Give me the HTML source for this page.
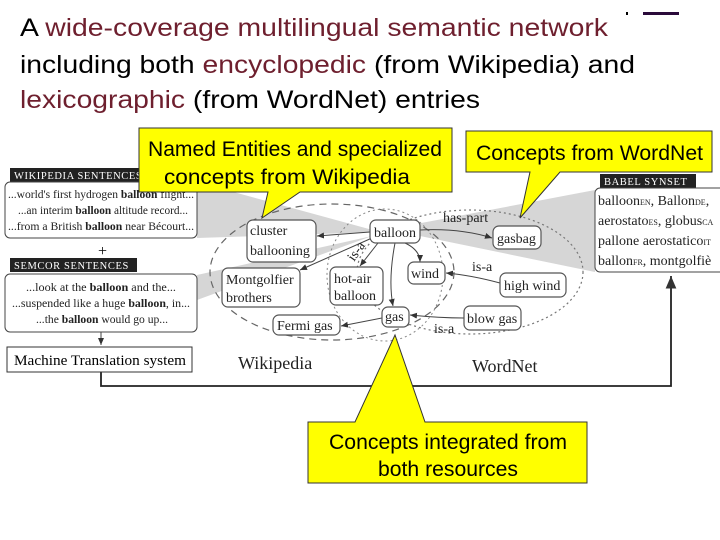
<!DOCTYPE html>
<html><head><meta charset="utf-8"><style>
html,body{margin:0;padding:0;background:#fff;width:720px;height:540px;overflow:hidden}
svg{display:block}
.t{font-family:"Liberation Sans",sans-serif;font-size:25px}
.r{fill:#6e1f2e}
.s{font-family:"Liberation Serif",serif}
.y{fill:#ffff00;stroke:#333;stroke-width:1}
.c{font-family:"Liberation Sans",sans-serif;font-size:21px;fill:#000}
.n{fill:#fff;stroke:#555;stroke-width:1.2}
.nt{font-family:"Liberation Serif",serif;font-size:14px;fill:#222}
.e{stroke:#444;stroke-width:1;fill:none;marker-end:url(#a)}
</style></head><body>
<svg width="720" height="540" viewBox="0 0 720 540">
<defs><marker id="a" markerWidth="8" markerHeight="8" refX="7" refY="4" orient="auto"><path d="M0,1 L7,4 L0,7 z" fill="#333"/></marker></defs>
<text class="t" x="20" y="36" textLength="588" lengthAdjust="spacingAndGlyphs">A <tspan class="r">wide-coverage multilingual semantic network</tspan></text>
<text class="t" x="20" y="73" textLength="615" lengthAdjust="spacingAndGlyphs">including both <tspan class="r">encyclopedic</tspan> (from Wikipedia) and</text>
<text class="t" x="20" y="108" textLength="460" lengthAdjust="spacingAndGlyphs"><tspan class="r">lexicographic</tspan> (from WordNet) entries</text>
<rect x="626" y="12" width="2" height="3" fill="#000"/><rect x="643" y="12" width="36" height="3" fill="#2a0a3a"/>

<polygon points="197,182 197,238 380,232" fill="#d6d6d6"/>
<polygon points="197,275 197,300 372,236" fill="#d6d6d6"/>
<polygon points="595,190 595,272 420,236 395,228" fill="#d6d6d6"/>

<ellipse cx="332" cy="272" rx="122" ry="68" fill="none" stroke="#666" stroke-dasharray="7,5" stroke-width="1.2"/>
<ellipse cx="470" cy="272" rx="113" ry="62" fill="none" stroke="#777" stroke-dasharray="2,3" stroke-width="1.2"/>
<ellipse cx="385" cy="275" rx="58" ry="66" fill="none" stroke="#888" stroke-dasharray="2,3" stroke-width="1"/>

<path d="M101,372 V386 H671 V276" fill="none" stroke="#222" stroke-width="1.8" marker-end="url(#a)"/>
<line x1="101" y1="332" x2="101" y2="345" class="e"/>

<rect x="10" y="168" width="130" height="14" fill="#222"/>
<text x="14" y="179" class="s" font-size="10.5" fill="#fff" letter-spacing=".6">WIKIPEDIA SENTENCES</text>
<rect x="5" y="182" width="192" height="56" rx="5" fill="#fff" stroke="#444"/>
<text class="s" font-size="12" fill="#222"><tspan x="8" y="198" textLength="186" lengthAdjust="spacingAndGlyphs">...world's first hydrogen <tspan font-weight="bold">balloon</tspan> flight...</tspan><tspan x="18" y="214" textLength="170" lengthAdjust="spacingAndGlyphs">...an interim <tspan font-weight="bold">balloon</tspan> altitude record...</tspan><tspan x="8" y="230" textLength="186" lengthAdjust="spacingAndGlyphs">...from a British <tspan font-weight="bold">balloon</tspan> near Bécourt...</tspan></text>
<text x="98" y="256" class="s" font-size="16">+</text>
<rect x="10" y="258" width="127" height="14" fill="#222"/>
<text x="14" y="269" class="s" font-size="10.5" fill="#fff" letter-spacing=".6">SEMCOR SENTENCES</text>
<rect x="5" y="274" width="192" height="58" rx="5" fill="#fff" stroke="#444"/>
<text class="s" font-size="12" fill="#222"><tspan x="26" y="291" textLength="150" lengthAdjust="spacingAndGlyphs">...look at the <tspan font-weight="bold">balloon</tspan> and the...</tspan><tspan x="12" y="307" textLength="178" lengthAdjust="spacingAndGlyphs">...suspended like a huge <tspan font-weight="bold">balloon</tspan>, in...</tspan><tspan x="36" y="323" textLength="132" lengthAdjust="spacingAndGlyphs">...the <tspan font-weight="bold">balloon</tspan> would go up...</tspan></text>
<rect x="7" y="347" width="185" height="25" fill="#fff" stroke="#333"/>
<text x="14" y="365" class="s" font-size="15" textLength="172" lengthAdjust="spacingAndGlyphs">Machine Translation system</text>

<rect x="600" y="174" width="96" height="14" fill="#222"/>
<text x="604" y="185" class="s" font-size="10.5" fill="#fff" letter-spacing=".6">BABEL SYNSET</text>
<rect x="595" y="188" width="140" height="84" rx="5" fill="#fff" stroke="#444"/>
<text class="s" font-size="14" fill="#222"><tspan x="598" y="205">balloon<tspan font-size="8">EN</tspan>, Ballon<tspan font-size="8">DE</tspan>,</tspan><tspan x="598" y="225">aerostato<tspan font-size="8">ES</tspan>, globus<tspan font-size="8">CA</tspan></tspan><tspan x="598" y="245">pallone aerostatico<tspan font-size="8">IT</tspan></tspan><tspan x="598" y="265">ballon<tspan font-size="8">FR</tspan>, montgolfiè</tspan></text>

<path d="M420,230 Q460,228 492,238" class="e"/>
<text x="443" y="222" class="nt" font-size="12">has-part</text>
<line x1="370" y1="232" x2="317" y2="236" class="e"/>
<line x1="372" y1="238" x2="300" y2="270" class="e"/>
<line x1="378" y1="243" x2="360" y2="266" class="e"/>
<text x="354" y="262" class="nt" font-size="11" transform="rotate(-55 354 262)">is-a</text>
<path d="M405,243 Q420,250 420,262" class="e"/>
<path d="M395,243 Q388,280 393,306" class="e"/>
<path d="M500,283 Q470,275 446,273" class="e"/>
<text x="472" y="271" class="nt" font-size="12">is-a</text>
<path d="M464,318 Q440,318 410,315" class="e"/>
<text x="434" y="333" class="nt" font-size="12">is-a</text>
<line x1="382" y1="318" x2="341" y2="326" class="e"/>

<rect x="370" y="220" width="50" height="23" rx="6" class="n"/><text x="374" y="237" class="nt">balloon</text>
<rect x="247" y="220" width="69" height="42" rx="6" class="n"/><text class="nt"><tspan x="250" y="235">cluster</tspan><tspan x="250" y="255">ballooning</tspan></text>
<rect x="222" y="268" width="78" height="39" rx="6" class="n"/><text class="nt"><tspan x="226" y="284">Montgolfier</tspan><tspan x="226" y="302">brothers</tspan></text>
<rect x="330" y="267" width="53" height="38" rx="6" class="n"/><text class="nt"><tspan x="334" y="283">hot-air</tspan><tspan x="334" y="300">balloon</tspan></text>
<rect x="408" y="262" width="37" height="22" rx="6" class="n"/><text x="411" y="278" class="nt">wind</text>
<rect x="493" y="226" width="48" height="23" rx="6" class="n"/><text x="497" y="243" class="nt">gasbag</text>
<rect x="500" y="273" width="66" height="24" rx="6" class="n"/><text x="504" y="290" class="nt">high wind</text>
<rect x="382" y="307" width="27" height="20" rx="6" class="n"/><text x="385" y="321" class="nt">gas</text>
<rect x="464" y="306" width="57" height="24" rx="6" class="n"/><text x="467" y="323" class="nt">blow gas</text>
<rect x="273" y="315" width="67" height="20" rx="6" class="n"/><text x="277" y="330" class="nt">Fermi gas</text>
<text x="238" y="369" class="s" font-size="18" fill="#222">Wikipedia</text>
<text x="472" y="372" class="s" font-size="18" fill="#222">WordNet</text>

<path d="M139,128 H452 V192 H300 L262,218 L268,192 H139 Z" class="y"/>
<text class="c"><tspan x="148" y="156" textLength="294" lengthAdjust="spacingAndGlyphs">Named Entities and specialized</tspan><tspan x="164" y="184" textLength="246" lengthAdjust="spacingAndGlyphs">concepts from Wikipedia</tspan></text>
<path d="M466,131 H712 V172 H560 L520,218 L530,172 H466 Z" class="y"/>
<text x="476" y="160" class="c" textLength="227" lengthAdjust="spacingAndGlyphs">Concepts from WordNet</text>
<path d="M308,422 H355 L395,335 L425,422 H587 V483 H308 Z" class="y"/>
<text class="c"><tspan x="329" y="449" textLength="238" lengthAdjust="spacingAndGlyphs">Concepts integrated from</tspan><tspan x="378" y="476" textLength="140" lengthAdjust="spacingAndGlyphs">both resources</tspan></text>
</svg>
</body></html>
